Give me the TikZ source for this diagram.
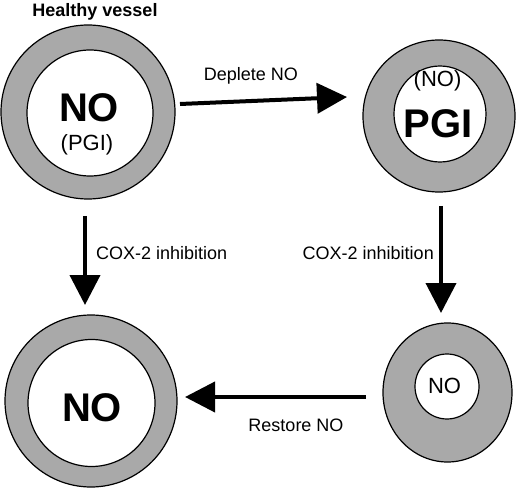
\documentclass[tikz,border=0pt]{standalone}
\usepackage{fontspec}
\setmainfont{Liberation Sans}
\usetikzlibrary{arrows.meta,shapes.geometric}
\definecolor{ring}{HTML}{A9A9A9}
\begin{document}
\begin{tikzpicture}[x=1pt,y=-1pt,
 outer/.style={ellipse,draw=black,line width=1.2pt,fill=ring,inner sep=0pt},
 inner/.style={ellipse,draw=black,line width=1.2pt,fill=white,inner sep=0pt},
 conn/.style={line width=4pt,-{Triangle[length=30pt,width=30pt]}},
 lab/.style={font=\fontsize{18}{20}\selectfont,inner sep=0pt},
 big/.style={font=\fontsize{40}{44}\selectfont\bfseries,inner sep=0pt},
 mid/.style={font=\fontsize{22}{24}\selectfont,inner sep=0pt}]
\useasboundingbox (0,0) rectangle (520,500);
\fill[white] (0,0) rectangle (520,500);
% title
\node[lab,font=\fontsize{18}{20}\selectfont\bfseries] (title) at (95,12) {Healthy vessel};
% vessel 1
\node[outer,minimum width=174pt,minimum height=174pt] (o1) at (88,112) {};
\node[inner,minimum width=126pt,minimum height=126pt] (i1) at (90,113) {};
\node[big] (t1a) at (89,107.5) {NO};
\node[mid] (t1b) at (87,145) {(PGI)};
% vessel 2
\node[outer,minimum width=152pt,minimum height=152pt] (o2) at (439,116) {};
\node[inner,minimum width=92pt,minimum height=96pt] (i2) at (440,114) {};
\node[mid] (t2a) at (437.5,81) {(NO)};
\node[big] (t2b) at (438,123.5) {PGI};
% vessel 3
\node[outer,minimum width=172pt,minimum height=172pt] (o3) at (91,401) {};
\node[inner,minimum width=127pt,minimum height=127pt] (i3) at (91.5,403) {};
\node[big] (t3) at (92,408) {NO};
% vessel 4
\node[outer,minimum width=129pt,minimum height=139pt] (o4) at (447.5,392.5) {};
\node[inner,minimum width=64pt,minimum height=65pt] (i4) at (447,386.5) {};
\node[mid] (t4) at (444.5,386) {NO};
% connector end points
\coordinate (a1s) at (180,104);
\coordinate (a1e) at (347,97);
\coordinate (a2s) at (85,216);
\coordinate (a2e) at (85,305);
\coordinate (a3s) at (441,206);
\coordinate (a3e) at (441,313);
\coordinate (a4s) at (366,397);
\coordinate (a4e) at (185,397);
\draw[conn] (a1s) -- (a1e);
\draw[conn] (a2s) -- (a2e);
\draw[conn] (a3s) -- (a3e);
\draw[conn] (a4s) -- (a4e);
% labels
\node[lab] (l1) at (251,76) {Deplete NO};
\node[lab,anchor=west] (l2) at (96,253) {COX-2 inhibition};
\node[lab,anchor=east] (l3) at (434,253) {COX-2 inhibition};
\node[lab] (l4) at (296,425) {Restore NO};
\end{tikzpicture}
\end{document}
